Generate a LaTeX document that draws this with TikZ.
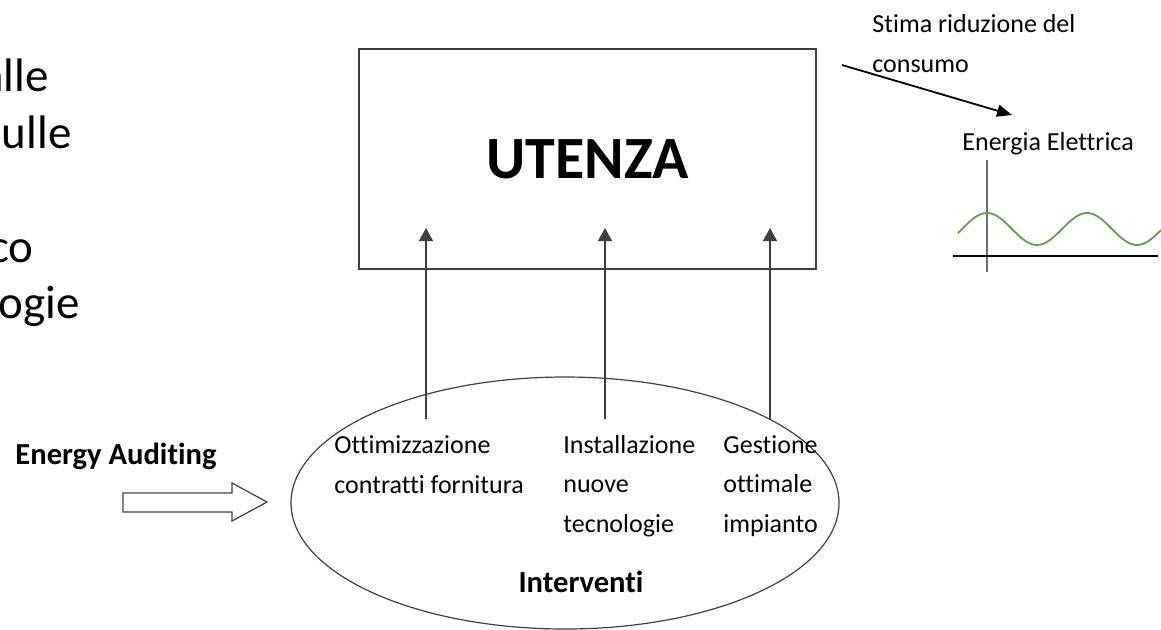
\documentclass[tikz,border=0pt]{standalone}
\usepackage{fontspec}
\setmainfont[Ligatures=NoCommon]{Carlito}
\usepackage{tikz}
\usetikzlibrary{arrows.meta,shapes.geometric}
\definecolor{framegray}{RGB}{64,64,64}
\definecolor{axisgray}{RGB}{112,112,112}
\definecolor{wavegreen}{RGB}{96,160,72}

\begin{document}
\begin{tikzpicture}[x=0.5pt,y=-0.5pt,
  txt/.style={inner sep=0pt,font=\fontsize{13}{19.75}\selectfont,align=left},
  bigtxt/.style={inner sep=0pt,font=\fontsize{23.5}{28}\selectfont},
  boldtxt/.style={inner sep=0pt,font=\bfseries\fontsize{15.3}{19}\selectfont},
  uparrow/.style={draw=framegray,line width=0.75pt,-{Triangle[length=6.5pt,width=7pt]}}]
\useasboundingbox (0,0) rectangle (1161,629);

% Slide text cut at the left border
\node[bigtxt,anchor=base east] (alle) at (49,91) {alle};
\node[bigtxt,anchor=base east] (sulle) at (72,148) {ulle};
\node[bigtxt,anchor=base east] (co) at (34,262) {co};
\node[bigtxt,anchor=base east] (ogie) at (80,318) {ogie};

% Utenza box
\node[draw=framegray,line width=0.75pt,minimum width=228.5pt,minimum height=110pt,
  font=\bfseries\fontsize{30}{36}\selectfont] (utenza) at (587.5,159) {UTENZA};

% Interventi ellipse
\node[ellipse,draw=framegray,line width=0.6pt,minimum width=274pt,minimum height=126pt]
  (interventi) at (565,503) {};
\node[boldtxt,anchor=base] (intlabel) at (581,592) {Interventi};
% (base = last line)
\node[txt,anchor=base west] (ottim) at (334,493) {Ottimizzazione\\contratti fornitura};
\node[txt,anchor=base west] (install) at (563,532) {Installazione\\nuove\\tecnologie};
\node[txt,anchor=base west] (gest) at (723,532) {Gestione\\ottimale\\impianto};

% Arrows from interventi to utenza
\foreach \i/\x in {1/426,2/605,3/770} {
  \coordinate (t\i) at (\x,419);
  \coordinate (h\i) at (\x,228);
  \draw[uparrow] (t\i) -- (h\i);
}

% Energy auditing
\node[boldtxt,anchor=base west] (audit) at (15,464) {Energy Auditing};
\draw[framegray,line width=0.6pt] (123,493) -- (232,493) -- (232,483) -- (267,502)
  -- (232,521) -- (232,512) -- (123,512) -- cycle;

% Stima riduzione
\node[txt,anchor=base west] (stima) at (872,72) {Stima riduzione del\\consumo};
\coordinate (s0) at (842,65);
\coordinate (s1) at (1012,115);
\draw[line width=0.9pt,-{Triangle[length=7.5pt,width=6pt]}] (s0) -- (s1);

% Energia elettrica chart
\node[txt,anchor=base west] (elettrica) at (962,150) {Energia Elettrica};
\draw[axisgray,line width=0.75pt] (987,160) -- (987,272);
\draw[line width=0.6pt] (953,256) -- (1158,256);
\draw[wavegreen,line width=0.9pt,domain=958:1161,samples=80,smooth]
  plot (\x,{229-16*cos((\x-987)*3.6)});
\end{tikzpicture}
\end{document}
